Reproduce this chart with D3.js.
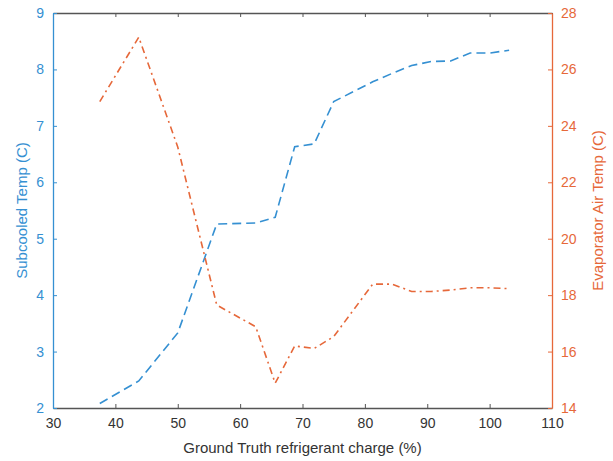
<!DOCTYPE html>
<html>
<head>
<meta charset="utf-8">
<script src="https://cdn.jsdelivr.net/npm/d3@7"></script>
<style>
	body { margin: 0; background: #fff; }
	text { font-family: 'Liberation Sans', Arial, sans-serif; }
</style>
</head>
<body>
<div id="chart"></div>
<script>
// refrigerant charge (%)
const charge = [ 37.5, 43.75, 50, 56.25, 62.5, 65.625, 68.75, 71.875, 75, 81.25, 84.375, 87.5, 90.625, 93.75, 96.875, 100, 103.125 ];
// subcooled temp (C)
const subcooled = [ 2.08, 2.48, 3.33, 5.26, 5.28, 5.38, 6.63, 6.68, 7.43, 7.78, 7.93, 8.07, 8.14, 8.15, 8.29, 8.29, 8.34 ];
// evaporator air temp (C)
const evapAir = [ 24.86, 27.14, 23.25, 17.65, 16.88, 14.88, 16.2, 16.11, 16.53, 18.39, 18.39, 18.13, 18.13, 18.18, 18.26, 18.26, 18.23 ];

const xTicks = [ 30, 40, 50, 60, 70, 80, 90, 100, 110 ];
const yLeftTicks = [ 2, 3, 4, 5, 6, 7, 8, 9 ];
const yRightTicks = [ 14, 16, 18, 20, 22, 24, 26, 28 ];

const dimensions = {
	width  : 613,
	height : 461,
	margin : {
		top    : 13,
		right  : 61,
		bottom : 53,
		left   : 53
	}
};
dimensions.boundedWidth = dimensions.width - dimensions.margin.left - dimensions.margin.right;
dimensions.boundedHeight = dimensions.height - dimensions.margin.top - dimensions.margin.bottom;

const blue = '#3590d2';
const orange = '#e6683a';
const axisGray = '#555';

const svg = d3.select('#chart').append('svg').attr('width', dimensions.width).attr('height', dimensions.height);
const bounds = svg.append('g').attr('transform', `translate(${dimensions.margin.left}, ${dimensions.margin.top})`);

const x = d3.scaleLinear().domain([ 30, 110 ]).range([ 0, dimensions.boundedWidth ]);
const yLeft = d3.scaleLinear().domain([ 2, 9 ]).range([ dimensions.boundedHeight, 0 ]);
const yRight = d3.scaleLinear().domain([ 14, 28 ]).range([ dimensions.boundedHeight, 0 ]);

// bottom axis, ticks inward
const xAxis = bounds
	.append('g')
	.attr('transform', `translate(0, ${dimensions.boundedHeight})`)
	.call(d3.axisBottom(x).tickValues(xTicks).tickSizeInner(-4).tickSizeOuter(0).tickPadding(10).tickFormat(d3.format('d')));
// top axis, ticks only
const xTop = bounds.append('g').call(d3.axisTop(x).tickValues(xTicks).tickSizeInner(-4).tickSizeOuter(0).tickFormat(''));

[ xAxis, xTop ].forEach(function(g) {
	g.select('.domain').attr('stroke', axisGray).attr('stroke-width', 1.3);
	g.selectAll('.tick line').attr('stroke', axisGray);
});
xAxis.selectAll('.tick text').attr('fill', '#333').attr('font-size', 14);

const leftAxis = bounds
	.append('g')
	.call(d3.axisLeft(yLeft).tickValues(yLeftTicks).tickSizeInner(-4).tickSizeOuter(0).tickPadding(9).tickFormat(d3.format('d')));
leftAxis.select('.domain').attr('stroke', blue).attr('stroke-width', 1.3);
leftAxis.selectAll('.tick line').attr('stroke', blue);
leftAxis.selectAll('.tick text').attr('fill', blue).attr('font-size', 14);

const rightAxis = bounds
	.append('g')
	.attr('transform', `translate(${dimensions.boundedWidth}, 0)`)
	.call(d3.axisRight(yRight).tickValues(yRightTicks).tickSizeInner(-4).tickSizeOuter(0).tickPadding(9).tickFormat(d3.format('d')));
rightAxis.select('.domain').attr('stroke', orange).attr('stroke-width', 1.3);
rightAxis.selectAll('.tick line').attr('stroke', orange);
rightAxis.selectAll('.tick text').attr('fill', orange).attr('font-size', 14);

// lines
const blueLine = d3
	.line()
	.x(function(d, i) {
		return x(charge[i]);
	})
	.y(function(d) {
		return yLeft(d);
	});
const orangeLine = d3
	.line()
	.x(function(d, i) {
		return x(charge[i]);
	})
	.y(function(d) {
		return yRight(d);
	});

bounds
	.append('path')
	.datum(subcooled)
	.attr('d', blueLine)
	.attr('fill', 'none')
	.attr('stroke', blue)
	.attr('stroke-width', 1.6)
	.attr('stroke-dasharray', '9,5');

bounds
	.append('path')
	.datum(evapAir)
	.attr('d', orangeLine)
	.attr('fill', 'none')
	.attr('stroke', orange)
	.attr('stroke-width', 1.6)
	.attr('stroke-dasharray', '7,4,2,4');

// labels
svg
	.append('text')
	.text('Ground Truth refrigerant charge (%)')
	.attr('x', dimensions.margin.left + dimensions.boundedWidth / 2)
	.attr('y', 453)
	.attr('text-anchor', 'middle')
	.attr('fill', '#333')
	.attr('font-size', 15);

svg
	.append('text')
	.text('Subcooled Temp (C)')
	.attr('transform', `translate(27, ${dimensions.margin.top + dimensions.boundedHeight / 2}) rotate(-90)`)
	.attr('text-anchor', 'middle')
	.attr('fill', blue)
	.attr('font-size', 15);

svg
	.append('text')
	.text('Evaporator Air Temp (C)')
	.attr('transform', `translate(603, ${dimensions.margin.top + dimensions.boundedHeight / 2}) rotate(-90)`)
	.attr('text-anchor', 'middle')
	.attr('fill', orange)
	.attr('font-size', 15);
</script>
</body>
</html>
